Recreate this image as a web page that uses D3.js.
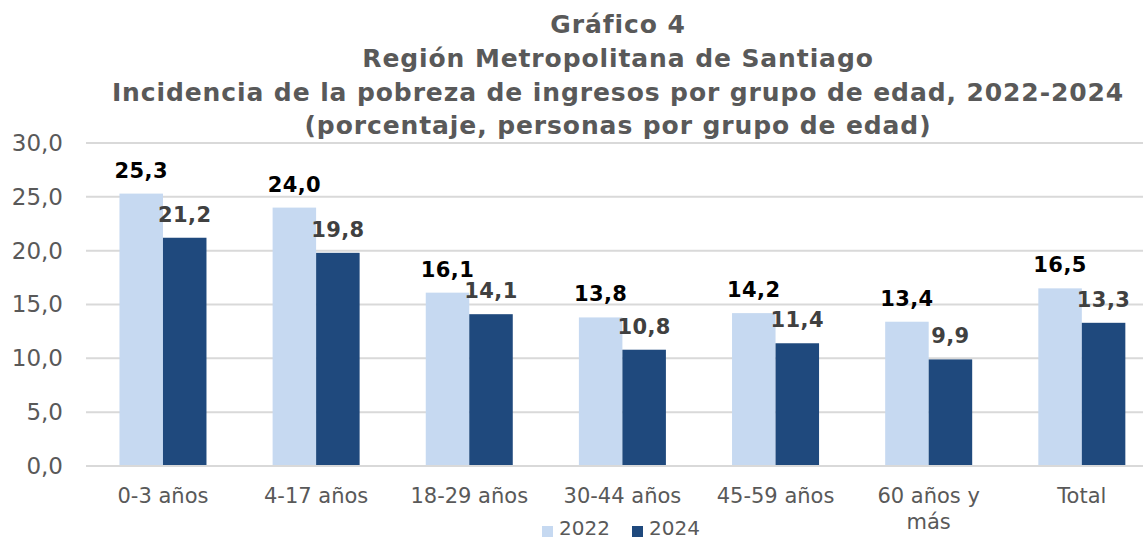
<!DOCTYPE html>
<html><head><meta charset="utf-8">
<script src="https://cdn.jsdelivr.net/npm/d3@7"></script>
<style>body{margin:0;background:#fff}svg{display:block;font-family:"DejaVu Sans",Verdana,sans-serif}</style>
</head><body>
<script>
const categories = ["0-3 años","4-17 años","18-29 años","30-44 años","45-59 años","60 años y más","Total"];
const values2022 = [25.3,24.0,16.1,13.8,14.2,13.4,16.5];
const values2024 = [21.2,19.8,14.1,10.8,11.4,9.9,13.3];
const seriesNames = ["2022","2024"];
const yTicks = [0,5,10,15,20,25,30];
const titleLines = ["Gráfico 4","Región Metropolitana de Santiago","Incidencia de la pobreza de ingresos por grupo de edad, 2022-2024","(porcentaje, personas por grupo de edad)"];

const W=1143,H=541;
const colors=["#c6d9f1","#1f497d"];
const svg=d3.select("body").append("svg").attr("width",W).attr("height",H);
const fmt=v=>d3.format(".1f")(v).replace(".",",");

const y=d3.scaleLinear().domain([0,30]).range([466,143]);
const x=d3.scaleBand().domain(categories).range([86.4,1158.4]).paddingInner(0).paddingOuter(0);
const xs=d3.scaleBand().domain(seriesNames).range([0,x.bandwidth()]).paddingInner(0).paddingOuter(0.76);

// title
const tY=[33,67,101,134];
titleLines.forEach((t,i)=>svg.append("text").attr("x",618).attr("y",tY[i]).attr("text-anchor","middle")
  .attr("font-size",25).attr("letter-spacing",0.9).attr("font-weight","bold").attr("fill","#595959").text(t));

// gridlines
svg.append("g").selectAll("line").data(yTicks).join("line")
  .attr("x1",86).attr("x2",W).attr("y1",d=>y(d)).attr("y2",d=>y(d))
  .attr("stroke","#d9d9d9").attr("stroke-width",2);

// y axis labels
const yAxis=d3.axisLeft(y).tickValues(yTicks).tickFormat(fmt).tickSize(0).tickPadding(0);
const ga=svg.append("g").attr("transform","translate(63,0)").call(yAxis);
ga.select(".domain").remove();
ga.selectAll("text").attr("font-size",23).attr("fill","#595959").attr("font-family","DejaVu Sans, Verdana, sans-serif");

// bars
const series=[values2022,values2024];
const g=svg.append("g");
series.forEach((vals,si)=>{
  g.append("g").selectAll("rect").data(categories).join("rect")
    .attr("x",(c)=>x(c)+xs(seriesNames[si]))
    .attr("width",xs.bandwidth())
    .attr("y",(c,i)=>y(vals[i]))
    .attr("height",(c,i)=>y(0)-y(vals[i]))
    .attr("fill",colors[si]);
});
series.forEach((vals,si)=>{
  g.append("g").selectAll("text").data(categories).join("text")
    .attr("x",(c)=>x(c)+xs(seriesNames[si])+xs.bandwidth()/2)
    .attr("y",(c,i)=>y(vals[i])-16)
    .attr("text-anchor","middle").attr("font-size",21).attr("letter-spacing",0.4).attr("font-weight","bold")
    .attr("fill",si?"#404040":"#000")
    .text((c,i)=>fmt(vals[i]));
});

// bottom axis line
svg.append("line").attr("x1",86).attr("x2",W).attr("y1",y(0)).attr("y2",y(0)).attr("stroke","#d9d9d9").attr("stroke-width",2);

// category labels
svg.append("g").selectAll("text").data(categories).join("text")
  .attr("x",c=>x(c)+x.bandwidth()/2).attr("y",503).attr("text-anchor","middle")
  .attr("font-size",21).attr("fill","#595959")
  .each(function(c){
    const el=d3.select(this);
    if(c==="60 años y más"){
      el.append("tspan").attr("x",x(c)+x.bandwidth()/2).text("60 años y");
      el.append("tspan").attr("x",x(c)+x.bandwidth()/2).attr("dy",26).text("más");
    } else el.text(c);
  });

// legend
const lg=svg.append("g");
const lx=[542,632];
seriesNames.forEach((s,i)=>{
  lg.append("rect").attr("x",lx[i]).attr("y",526).attr("width",11).attr("height",11).attr("fill",colors[i]);
  lg.append("text").attr("x",lx[i]+17).attr("y",535).attr("font-size",20).attr("fill","#595959").text(s);
});
</script>
</body></html>
